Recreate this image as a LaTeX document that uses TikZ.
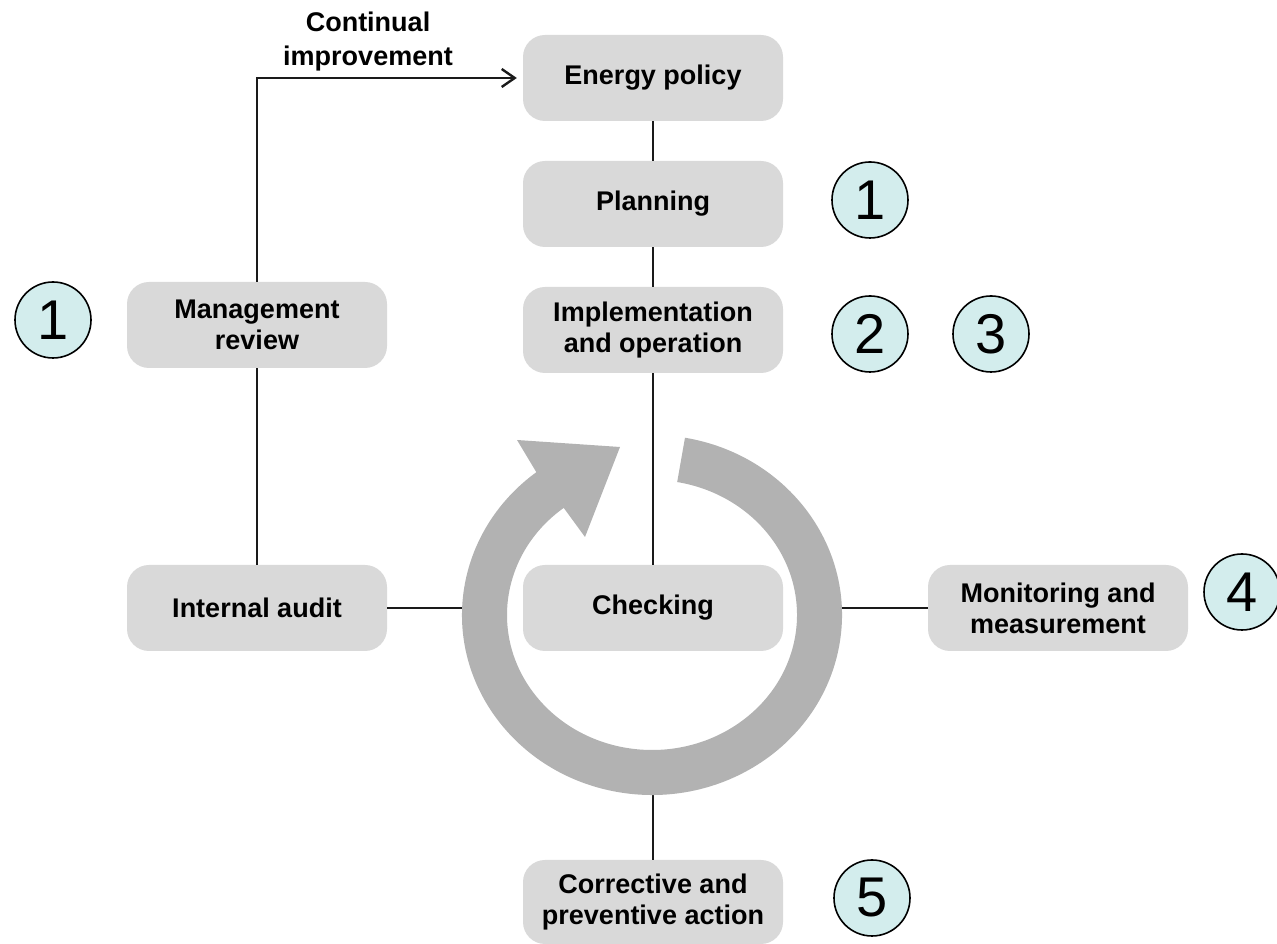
\documentclass[tikz,border=0pt]{standalone}
\usepackage{fontspec}
\setmainfont{Liberation Sans}
\usetikzlibrary{arrows.meta,calc}
\definecolor{boxgray}{HTML}{D9D9D9}
\definecolor{ringgray}{HTML}{B2B2B2}
\definecolor{numfill}{HTML}{D3EDED}
\definecolor{linecol}{HTML}{1A1A1A}
\begin{document}
\begin{tikzpicture}[x=1pt,y=1pt,
  stage/.style={fill=boxgray, rounded corners=22pt, minimum width=260pt, minimum height=86pt,
    align=center, inner sep=0pt, text=black, font=\bfseries\fontsize{27}{31}\selectfont},
  lab/.style={align=center, inner sep=0pt, text=black, font=\bfseries\fontsize{27}{34}\selectfont},
  num/.style={circle, fill=numfill, draw=black, line width=1.6pt, minimum size=76pt,
    inner sep=0pt, font=\fontsize{56}{56}\selectfont},
  conn/.style={draw=linecol, line width=2.4pt}]
\useasboundingbox (0,0) rectangle (1277,944);

% stage boxes
\node[stage] (ep) at (653,866) {Energy policy};
\node[stage] (pl) at (653,740) {Planning};
\node[stage] (io) at (653,614) {Implementation\\and operation};
\node[stage] (mr) at (257,619) {Management\\review};
\node[stage] (ia) at (257,336) {Internal audit};
\node[stage] (mm) at (1058,336) {Monitoring and\\measurement};
\node[stage, minimum height=84pt] (ca) at (653,42) {Corrective and\\preventive action};

% ring reference points
\coordinate (rc) at (652,329);
\coordinate (rW) at (470,336);
\coordinate (rE) at (835,336);
\coordinate (rS) at (653,160);

% connectors
\draw[conn] (ep.south) -- (pl.north);
\draw[conn] (pl.south) -- (io.north);
\draw[conn] (mr.south) -- (ia.north);
\draw[conn] (ia.east) -- (rW);
\draw[conn] (mm.west) -- (rE);
\draw[conn] (rS) -- (ca.north);
\draw[conn, -{Straight Barb[length=13pt,width=18pt]}, shorten >=6pt] (mr.north) |- (ep.west);
\node[lab, anchor=south] (cilab) at (368,873) {Continual\\improvement};

% checking box and the line to it
\node[stage] (ck) at (653,336) {Checking};
\draw[conn] (io.south) -- (ck.north);

% circular arrow
\fill[ringgray] ($(rc)+(80:190 and 180)$)
  arc[start angle=80, end angle=-232.5, x radius=190pt, y radius=180pt]
  -- (517,504) -- (620,497) -- (585,407)
  -- ($(rc)+(127.5:145 and 135)$)
  arc[start angle=127.5, end angle=440, x radius=145pt, y radius=135pt]
  -- cycle;

% numbered circles
\node[num] (n1a) at (53,624) {1};
\node[num] (n1b) at (870,744) {1};
\node[num] (n2) at (870,610) {2};
\node[num] (n3) at (991,610) {3};
\node[num] (n4) at (1242,352) {4};
\node[num] (n5) at (872,46) {5};
\end{tikzpicture}
\end{document}
